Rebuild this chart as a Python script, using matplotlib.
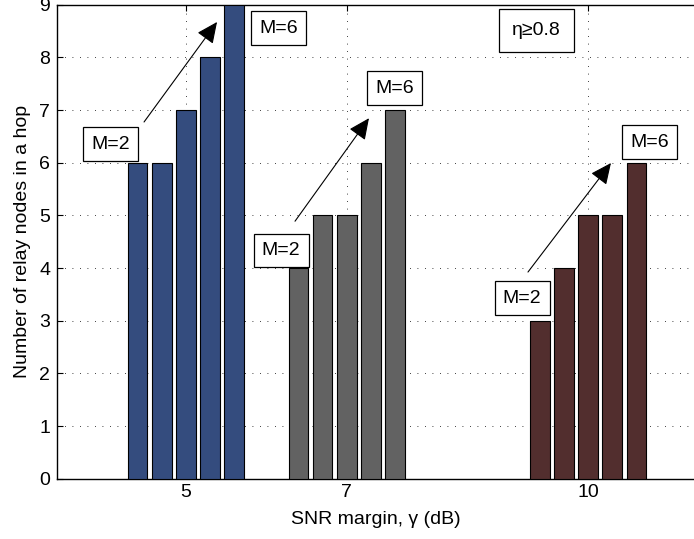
import matplotlib
matplotlib.use("Agg")
import matplotlib.pyplot as plt
import numpy as np

plt.rcParams['font.family'] = ['Liberation Sans', 'DejaVu Sans']

snr_margin = [5, 7, 10]
m_values = [2, 3, 4, 5, 6]
relay_nodes = {
    5: [6, 6, 7, 8, 9],
    7: [4, 5, 5, 6, 7],
    10: [3, 4, 5, 5, 6],
}
group_colors = {5: '#344C7E', 7: '#626262', 10: '#522E2E'}
yticks = list(range(0, 10))

fig = plt.figure(figsize=(6.94, 5.39), dpi=100)
ax = fig.add_axes([57.3/694, (539-478.7)/539, 1 - 57.3/694, (478.7-4.7)/539])

pitch = 0.3
width = 0.245
for g in snr_margin:
    vals = relay_nodes[g]
    n = len(vals)
    xs = g + (np.arange(n) - (n - 1) / 2) * pitch
    ax.bar(xs, vals, width=width, color=group_colors[g], edgecolor='black',
           linewidth=0.8, zorder=3)

ax.set_xlim(3.403, 11.315)
ax.set_ylim(0, 9)
ax.set_xticks(snr_margin)
ax.set_xticklabels([str(v) for v in snr_margin])
ax.set_yticks(yticks)

ax.grid(True, linestyle=(0, (1, 8)), color='black', linewidth=0.6, zorder=0)
ax.spines['right'].set_visible(False)
for s in ['left', 'top', 'bottom']:
    ax.spines[s].set_linewidth(1.0)
ax.tick_params(axis='both', direction='in', length=4, width=0.8, labelsize=14)
ax.tick_params(axis='x', top=True, pad=4)
ax.tick_params(axis='y', right=False, pad=5)

ax.set_xlabel('SNR margin, γ (dB)', fontsize=14, labelpad=7)
ax.set_ylabel('Number of relay nodes in a hop', fontsize=14, labelpad=6)

box = dict(boxstyle='square,pad=0.42', facecolor='white', edgecolor='black', linewidth=0.9)
labels = [
    # (text, x, y)
    ('M=2', 4.064, 6.355), ('M=6', 6.152, 8.557),
    ('M=2', 6.185, 4.339), ('M=6', 7.593, 7.418),
    ('M=2', 9.178, 3.431), ('M=6', 10.762, 6.393),
]
for t, x, y in labels:
    ax.text(x, y, t, fontsize=14, ha='center', va='center', bbox=box, zorder=5)

ax.text(9.358, 8.510, 'η≥0.8', fontsize=14, ha='center', va='center', zorder=5,
        bbox=dict(boxstyle='square,pad=0.68', facecolor='white', edgecolor='black', linewidth=0.9))

arrows = [
    ((4.481, 6.773), (5.388, 8.672)),
    ((6.357, 4.889), (7.276, 6.845)),
    ((9.252, 3.924), (10.283, 5.994)),
]
for (x0, y0), (x1, y1) in arrows:
    ax.annotate('', xy=(x1, y1), xytext=(x0, y0), zorder=6,
                arrowprops=dict(arrowstyle='-|>,head_length=1.3,head_width=0.6',
                                mutation_scale=10, lw=0.8, color='black',
                                shrinkA=0, shrinkB=0))

fig.savefig('out.png', dpi=100)
